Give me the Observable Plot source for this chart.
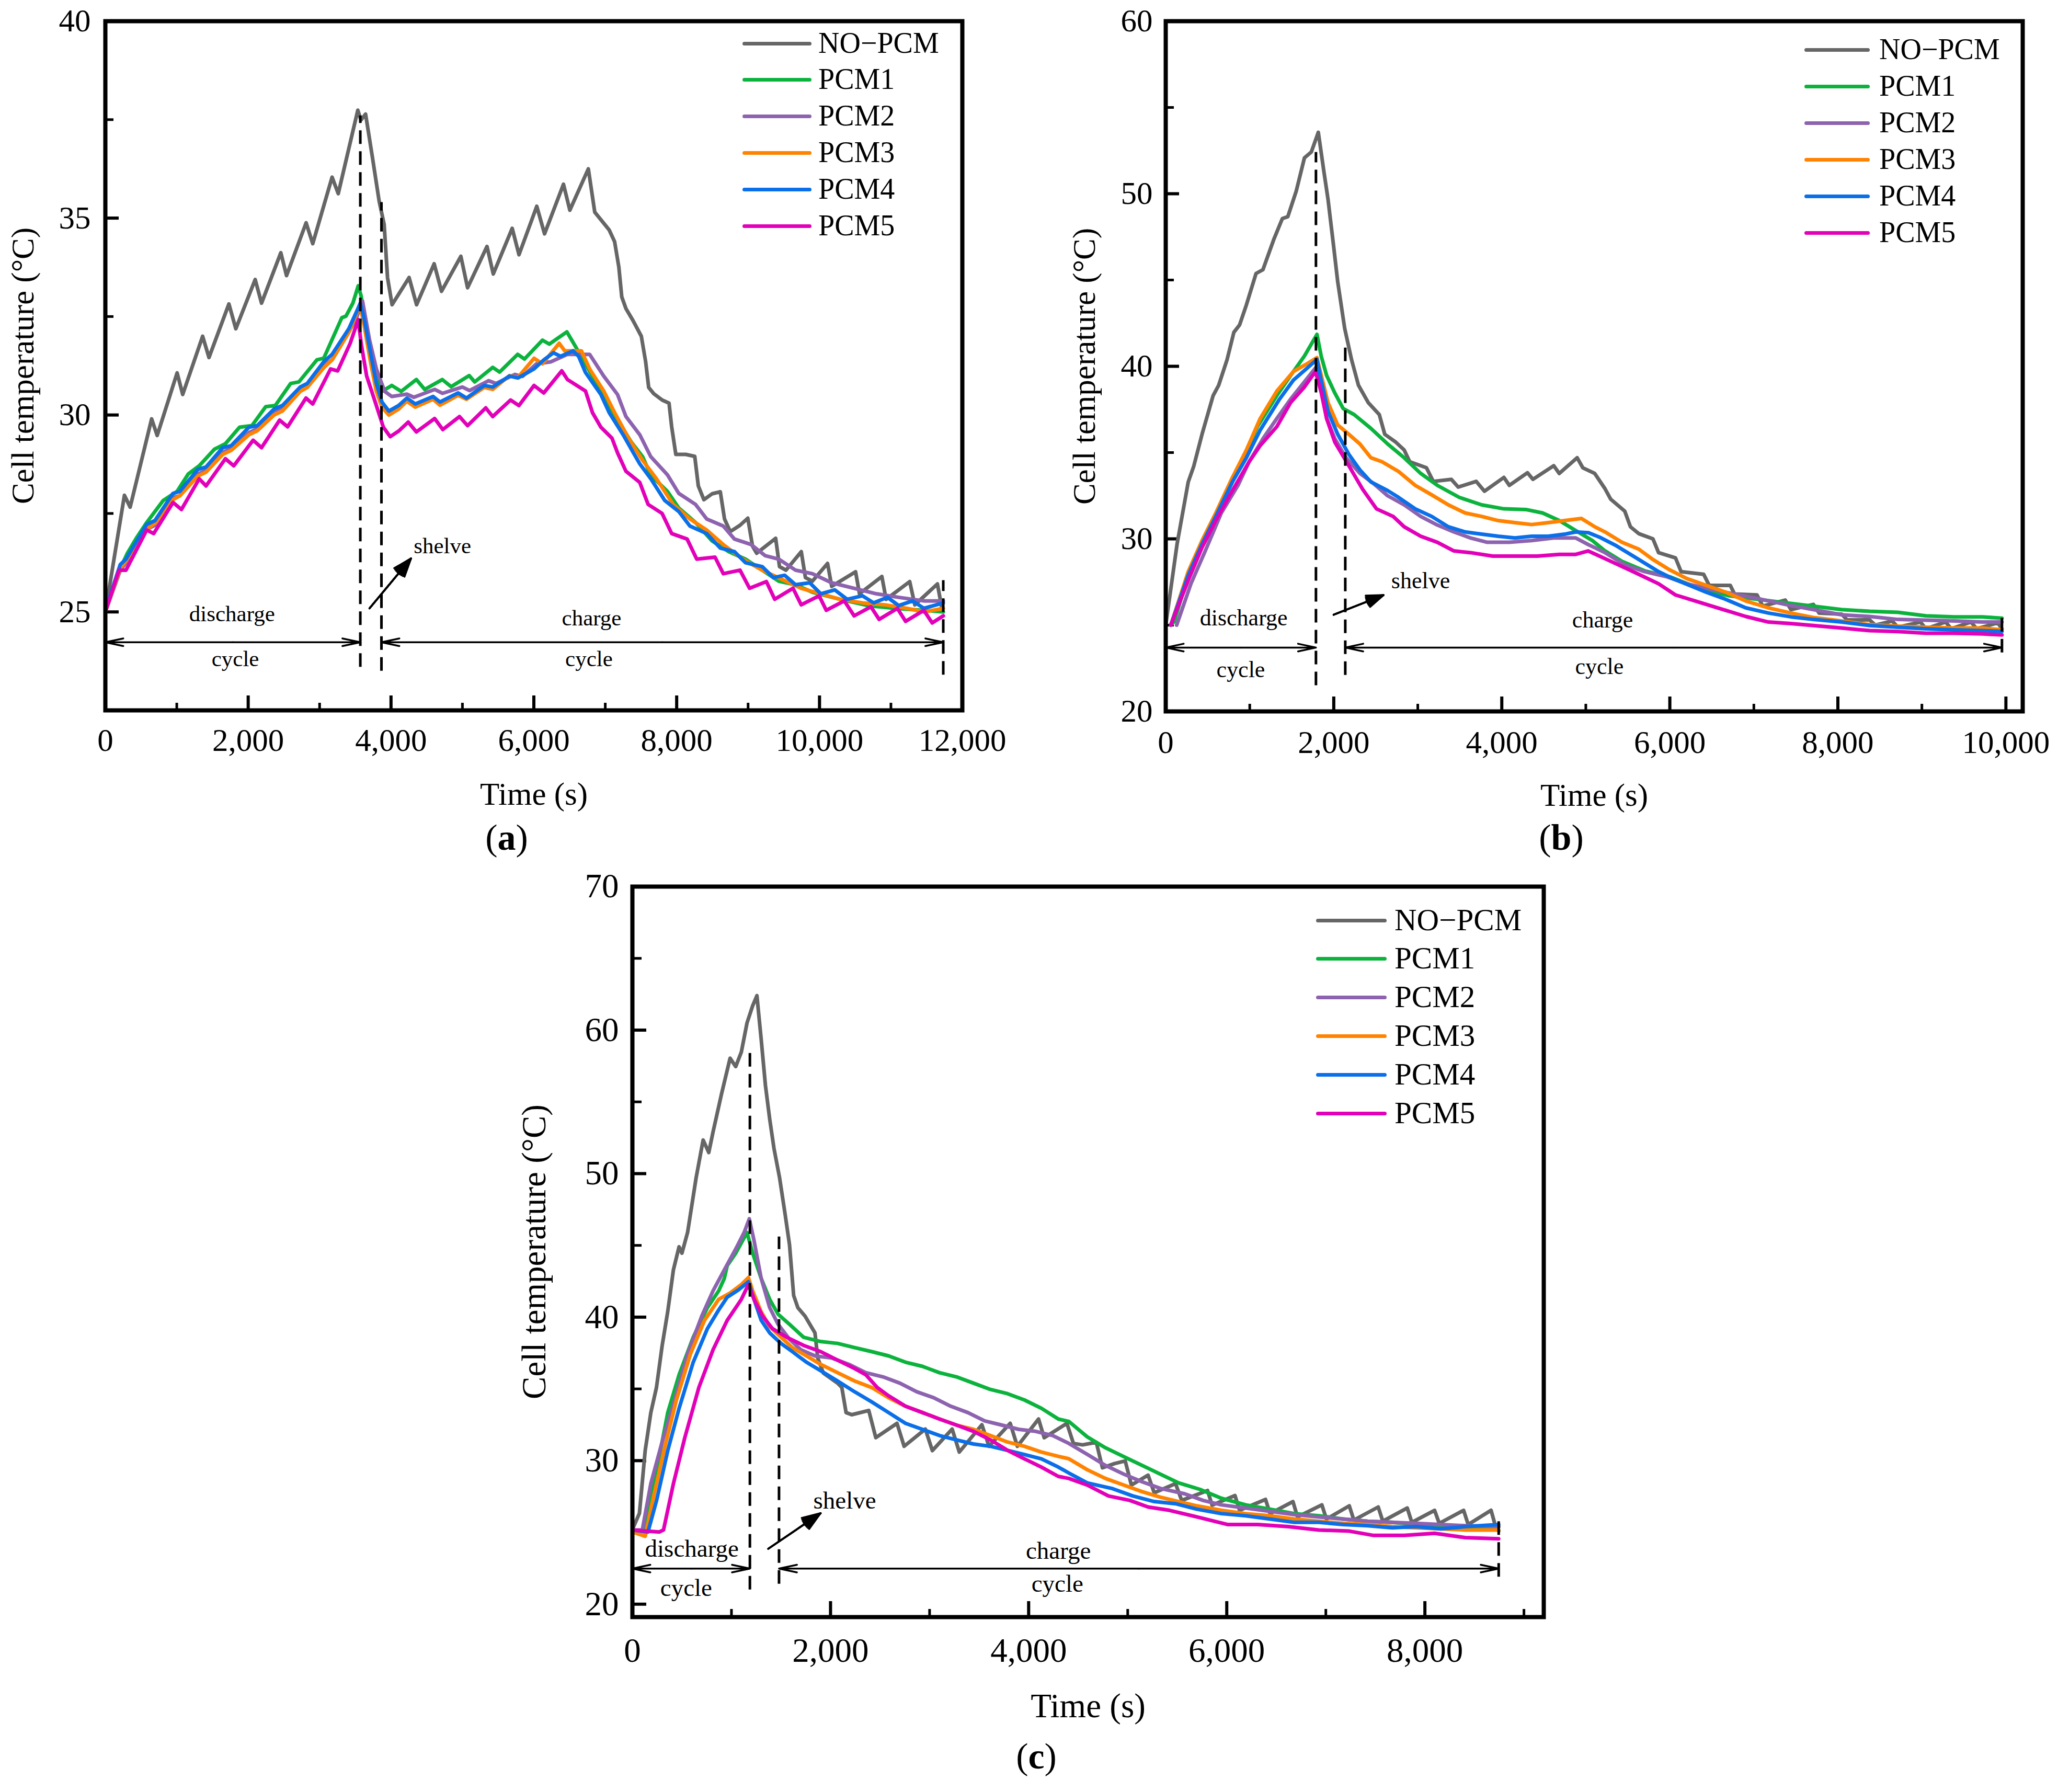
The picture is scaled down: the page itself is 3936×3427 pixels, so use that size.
<!DOCTYPE html>
<html><head><meta charset="utf-8">
<script src="https://cdn.jsdelivr.net/npm/d3@7"></script>
<script src="https://cdn.jsdelivr.net/npm/@observablehq/plot@0.6"></script>
<style>
body{margin:0;background:#fff;}
#root{position:relative;width:3936px;height:3427px;background:#fff;font-family:"Liberation Serif","Times New Roman",serif;color:#000;overflow:hidden;}
.panel{position:absolute;}
.legline{position:absolute;height:7px;border-radius:4px;}
.legtext{position:absolute;line-height:1;white-space:nowrap;}
.plabel{position:absolute;line-height:1;white-space:nowrap;transform:translate(-50%,-50%);}
</style></head><body><div id="root"></div>
<script>
const names = ["NO\u2212PCM","PCM1","PCM2","PCM3","PCM4","PCM5"];
const colors = ["#666666","#0bb33d","#8d63b0","#ff8300","#0a6fe8","#e200b8"];

// ---------- Panel (a) ----------
const aNoPcm = [[0,25.0],[267,27.96],[347,27.66],[648,29.9],[726,29.48],[1005,31.07],[1083,30.52],[1362,32.0],[1451,31.46],[1730,32.82],[1827,32.19],[2098,33.44],[2187,32.84],[2457,34.12],[2537,33.54],[2811,34.88],[2904,34.35],[3175,36.04],[3261,35.62],[3535,37.74],[3579,37.49],[3644,37.64],[3739,36.55],[3834,35.43],[3904,34.84],[3951,33.49],[4015,32.8],[4253,33.49],[4358,32.8],[4604,33.84],[4707,33.14],[4978,34.03],[5072,33.23],[5344,34.28],[5432,33.58],[5697,34.74],[5792,34.07],[6041,35.3],[6150,34.6],[6415,35.86],[6504,35.2],[6763,36.25],[6853,35.15],[6920,35.0],[7055,34.7],[7131,34.4],[7190,33.76],[7231,33.0],[7290,32.7],[7388,32.4],[7505,32.0],[7565,31.36],[7608,30.7],[7680,30.54],[7797,30.38],[7893,30.3],[7930,29.7],[7988,29.0],[8127,29.0],[8253,28.95],[8303,28.2],[8381,27.85],[8497,28.0],[8611,28.05],[8670,27.36],[8750,27.04],[8887,27.2],[8996,27.38],[9062,26.67],[9120,26.49],[9386,26.87],[9440,26.15],[9531,26.06],[9745,26.53],[9803,25.87],[9900,25.78],[10113,26.23],[10171,25.65],[10505,26.02],[10560,25.46],[10873,25.9],[10933,25.32],[11263,25.77],[11335,25.18],[11651,25.71],[11710,25.13]];
const aPcm1 = [[0,25.05],[191,26.03],[308,26.49],[443,26.9],[579,27.27],[810,27.83],[1005,28.06],[1160,28.5],[1314,28.71],[1527,29.13],[1681,29.27],[1879,29.69],[2052,29.73],[2245,30.21],[2380,30.24],[2594,30.8],[2710,30.84],[2962,31.4],[3058,31.44],[3311,32.47],[3369,32.51],[3466,32.84],[3541,33.28],[3582,33.02],[3650,32.2],[3750,31.2],[3872,30.6],[4010,30.75],[4142,30.6],[4355,30.9],[4472,30.65],[4718,30.9],[4842,30.72],[5095,31.0],[5172,30.84],[5425,31.21],[5521,31.09],[5773,31.54],[5869,31.42],[6120,31.9],[6216,31.8],[6463,32.11],[6589,31.72],[6705,31.35],[6939,30.61],[7055,30.24],[7172,29.87],[7366,29.31],[7523,28.94],[7638,28.47],[7871,28.06],[8029,27.64],[8264,27.27],[8497,26.8],[8730,26.53],[8963,26.34],[9197,26.06],[9431,25.78],[9664,25.69],[9900,25.5],[10289,25.32],[10678,25.16],[11070,25.09],[11461,25.04],[11733,25.0]];
const aPcm2 = [[0,25.0],[208,26.05],[289,26.25],[579,27.1],[695,27.2],[948,27.9],[1043,27.95],[1296,28.5],[1410,28.6],[1644,29.05],[1761,29.15],[2011,29.55],[2127,29.65],[2362,30.1],[2479,30.2],[2729,30.65],[2827,30.75],[3058,31.25],[3175,31.4],[3409,32.1],[3524,32.5],[3600,32.9],[3700,31.9],[3795,31.17],[3911,30.6],[4010,30.47],[4222,30.53],[4320,30.45],[4611,30.65],[4720,30.55],[4999,30.71],[5100,30.62],[5366,30.87],[5470,30.8],[5734,31.03],[5840,30.98],[6036,31.3],[6236,31.35],[6471,31.54],[6781,31.54],[6978,30.99],[7172,30.52],[7290,29.96],[7483,29.5],[7638,28.94],[7871,28.48],[8029,28.01],[8264,27.73],[8420,27.36],[8653,27.18],[8809,26.85],[9043,26.71],[9238,26.43],[9431,26.34],[9664,26.06],[9900,25.97],[10171,25.74],[10485,25.6],[10796,25.46],[11109,25.37],[11461,25.28],[11733,25.28]];
const aPcm3 = [[0,25.0],[208,26.1],[289,26.3],[579,27.1],[695,27.25],[948,27.85],[1043,27.95],[1296,28.45],[1410,28.55],[1644,29.0],[1761,29.1],[2011,29.5],[2127,29.6],[2362,30.0],[2479,30.1],[2729,30.6],[2827,30.7],[3058,31.2],[3175,31.4],[3409,32.1],[3524,32.6],[3565,32.8],[3621,32.3],[3717,31.3],[3795,30.6],[3873,30.2],[3970,30.0],[4106,30.15],[4222,30.35],[4340,30.2],[4589,30.4],[4685,30.25],[4940,30.5],[5057,30.4],[5307,30.7],[5424,30.65],[5658,31.0],[5776,30.95],[6003,31.44],[6120,31.3],[6355,31.82],[6432,31.63],[6666,31.63],[6781,31.17],[6978,30.61],[7131,30.06],[7327,29.41],[7523,28.85],[7717,28.38],[7951,27.73],[8186,27.36],[8420,27.08],[8653,26.71],[8925,26.34],[9197,26.06],[9469,25.83],[9744,25.6],[10017,25.46],[10289,25.32],[10601,25.23],[10913,25.18],[11226,25.09],[11461,25.0],[11733,25.09]];
const aPcm4 = [[0,25.05],[208,26.2],[289,26.34],[579,27.22],[695,27.32],[948,28.01],[1043,28.06],[1296,28.62],[1410,28.68],[1644,29.17],[1761,29.22],[2011,29.69],[2127,29.73],[2362,30.15],[2479,30.24],[2729,30.71],[2827,30.8],[3058,31.35],[3175,31.54],[3409,32.19],[3524,32.65],[3570,32.84],[3621,32.47],[3717,31.54],[3795,30.8],[3873,30.33],[3970,30.1],[4106,30.24],[4222,30.43],[4340,30.28],[4589,30.47],[4685,30.33],[4940,30.56],[5057,30.43],[5307,30.75],[5424,30.71],[5658,30.99],[5776,30.94],[6003,31.17],[6139,31.4],[6275,31.58],[6373,31.49],[6549,31.63],[6627,31.49],[6723,31.08],[6939,30.52],[7055,30.06],[7250,29.5],[7366,29.13],[7483,28.76],[7638,28.38],[7833,27.83],[8029,27.55],[8186,27.18],[8420,26.99],[8611,26.62],[8809,26.53],[8963,26.25],[9197,26.15],[9355,25.87],[9512,25.93],[9664,25.69],[9864,25.74],[10017,25.46],[10213,25.56],[10387,25.32],[10601,25.41],[10757,25.23],[10952,25.37],[11109,25.16],[11304,25.28],[11461,25.09],[11733,25.23]];
const aPcm5 = [[0,25.0],[191,26.06],[289,26.06],[579,27.08],[677,26.99],[948,27.78],[1065,27.6],[1314,28.38],[1410,28.2],[1681,28.89],[1798,28.71],[2069,29.36],[2187,29.17],[2440,29.87],[2553,29.7],[2809,30.43],[2904,30.28],[3154,31.17],[3253,31.12],[3428,31.82],[3541,32.42],[3582,31.82],[3659,30.99],[3795,30.24],[3893,29.69],[3988,29.45],[4106,29.59],[4241,29.82],[4355,29.57],[4611,29.91],[4725,29.63],[4958,29.96],[5072,29.73],[5327,30.18],[5424,29.96],[5674,30.38],[5791,30.24],[6003,30.75],[6139,30.56],[6391,31.12],[6471,30.9],[6723,30.61],[6821,30.06],[6939,29.69],[7094,29.41],[7172,29.04],[7290,28.57],[7483,28.29],[7600,27.73],[7796,27.5],[7930,26.99],[8146,26.85],[8281,26.34],[8537,26.39],[8653,25.97],[8887,26.06],[9021,25.6],[9256,25.77],[9373,25.32],[9629,25.6],[9744,25.18],[9995,25.41],[10095,25.04],[10347,25.28],[10485,24.9],[10720,25.13],[10835,24.81],[11090,25.09],[11206,24.76],[11461,25.04],[11578,24.72],[11733,24.9]];
const aXMajor = [0,2000,4000,6000,8000,10000,12000];
const aXMinor = [1000,3000,5000,7000,9000,11000];
const aYMajor = [25,30,35,40];
const aYMinor = [27.5,32.5,37.5];
const aDashes = [{x:3570,y1:23.6,y2:37.6},{x:3866,y1:23.5,y2:35.4},{x:11733,y1:23.4,y2:25.8}];
const aSpans = [{a:0,b:3570,y:24.23},{a:3866,b:11733,y:24.23}];
const aNotes = [{text:"discharge",x:1774,y:24.95},{text:"cycle",x:1820,y:23.8},{text:"charge",x:6809,y:24.84},{text:"cycle",x:6772,y:23.8},{text:"shelve",x:4720,y:26.67}];
const aShelve = [{x1:3699,y1:25.09,x2:4281,y2:26.36}];

// ---------- Panel (b) ----------
const bNoPcm = [[0,25.0],[135,29.7],[268,33.3],[333,34.2],[432,36.06],[564,38.3],[630,38.9],[730,40.38],[811,41.97],[879,42.4],[960,43.56],[1075,45.38],[1157,45.6],[1290,47.4],[1388,48.56],[1453,48.67],[1553,50.15],[1651,52.08],[1733,52.42],[1816,53.56],[1882,51.3],[1931,49.7],[1998,46.97],[2047,44.9],[2130,42.2],[2212,40.38],[2294,38.9],[2410,37.9],[2542,37.2],[2607,36.06],[2739,35.6],[2838,35.15],[2904,34.47],[3103,34.12],[3184,33.33],[3399,33.45],[3481,33.0],[3695,33.33],[3794,32.76],[4025,33.56],[4090,33.1],[4305,33.83],[4371,33.45],[4618,34.24],[4684,33.79],[4897,34.7],[4964,34.12],[5106,33.79],[5229,32.9],[5296,32.3],[5464,31.6],[5531,30.7],[5631,30.3],[5799,30.0],[5866,29.2],[6067,28.9],[6134,28.1],[6402,27.95],[6469,27.3],[6720,27.3],[6770,26.8],[7038,26.75],[7106,26.1],[7374,26.45],[7441,25.9],[7709,26.2],[7776,25.7],[8044,25.64],[8111,25.3],[8379,25.3],[8446,25.0],[8647,25.24],[8714,24.88],[8982,25.18],[9049,24.79],[9283,25.18],[9350,24.79],[9585,25.18],[9652,24.79],[9903,25.13],[9953,24.79]];
const bPcm1 = [[60,25.0],[100,25.2],[268,27.9],[432,29.7],[596,31.3],[794,33.3],[926,34.7],[1091,36.5],[1322,38.3],[1487,39.47],[1651,40.6],[1800,41.85],[1850,40.6],[1915,39.47],[2013,38.45],[2112,37.55],[2243,37.2],[2442,36.4],[2641,35.5],[2838,34.7],[3035,33.79],[3233,33.1],[3495,32.4],[3761,31.97],[4025,31.74],[4287,31.7],[4486,31.5],[4684,31.06],[4881,30.48],[5078,29.9],[5229,29.3],[5430,28.7],[5698,28.15],[6000,27.8],[6369,27.1],[6704,26.7],[7038,26.5],[7374,26.3],[7709,26.1],[8044,25.9],[8379,25.8],[8714,25.74],[9049,25.54],[9384,25.48],[9719,25.48],[9953,25.4]];
const bPcm2 = [[130,25.0],[300,27.4],[465,29.24],[662,31.5],[860,33.1],[993,34.47],[1157,35.8],[1322,36.97],[1487,38.1],[1651,39.1],[1782,39.9],[1850,38.65],[1915,37.0],[2013,35.8],[2146,34.7],[2311,33.8],[2475,33.2],[2641,32.5],[2838,31.97],[3035,31.3],[3233,30.8],[3430,30.4],[3629,30.05],[3827,29.8],[4090,29.8],[4355,29.9],[4618,30.05],[4881,30.05],[5028,29.67],[5229,29.2],[5464,28.5],[5698,28.1],[5967,27.8],[6201,27.4],[6469,27.1],[6770,26.8],[7038,26.55],[7374,26.2],[7709,25.9],[8044,25.6],[8379,25.5],[8714,25.33],[9049,25.29],[9384,25.24],[9719,25.18],[9953,25.18]];
const bPcm3 = [[60,25.0],[268,28.1],[432,29.9],[596,31.5],[794,33.56],[960,35.15],[1124,36.97],[1322,38.56],[1520,39.7],[1684,40.15],[1800,40.5],[1863,39.24],[1931,37.9],[2047,36.6],[2179,36.06],[2311,35.5],[2442,34.7],[2574,34.47],[2772,33.9],[2970,33.1],[3166,32.55],[3364,31.97],[3564,31.5],[3761,31.3],[3957,31.06],[4156,30.94],[4355,30.83],[4552,30.94],[4748,31.06],[4947,31.18],[5106,30.7],[5229,30.4],[5430,29.8],[5631,29.4],[5799,28.8],[6000,28.2],[6201,27.7],[6436,27.3],[6670,26.9],[6905,26.4],[7173,26.0],[7441,25.7],[7709,25.44],[8044,25.24],[8379,25.03],[8714,24.94],[9049,24.88],[9384,24.83],[9719,24.83],[9953,24.73]];
const bPcm4 = [[60,25.0],[268,27.9],[432,29.7],[596,31.3],[794,33.3],[960,34.7],[1124,36.3],[1355,38.1],[1520,39.2],[1684,39.9],[1800,40.4],[1850,39.2],[1931,37.4],[2047,36.06],[2179,34.9],[2311,34.0],[2442,33.3],[2641,32.8],[2772,32.4],[2970,31.74],[3166,31.3],[3364,30.7],[3564,30.4],[3761,30.27],[3957,30.15],[4156,30.05],[4355,30.15],[4552,30.15],[4748,30.27],[4881,30.4],[5028,30.36],[5162,30.1],[5363,29.6],[5598,28.9],[5866,28.1],[6034,27.7],[6235,27.3],[6436,26.9],[6637,26.55],[6905,26.0],[7173,25.7],[7441,25.48],[7709,25.33],[8044,25.18],[8379,24.98],[8714,24.88],[9049,24.79],[9384,24.73],[9719,24.68],[9953,24.64]];
const bPcm5 = [[60,25.0],[268,27.6],[432,29.5],[596,31.06],[794,32.8],[993,34.47],[1124,35.4],[1322,36.5],[1487,37.9],[1651,38.8],[1782,39.7],[1850,38.5],[1915,36.97],[2013,35.6],[2179,34.24],[2343,32.88],[2508,31.74],[2707,31.3],[2838,30.7],[3035,30.15],[3233,29.8],[3430,29.3],[3629,29.2],[3893,29.0],[4156,29.0],[4420,29.0],[4684,29.1],[4881,29.1],[5028,29.3],[5296,28.7],[5564,28.1],[5866,27.4],[6067,26.75],[6369,26.3],[6637,25.9],[6905,25.5],[7173,25.18],[7441,25.09],[7709,24.98],[8044,24.83],[8379,24.68],[8714,24.63],[9049,24.53],[9384,24.53],[9719,24.49],[9953,24.43]];
const bXMajor = [0,2000,4000,6000,8000,10000];
const bXMinor = [1000,3000,5000,7000,9000];
const bYMajor = [20,30,40,50,60];
const bYMinor = [25,35,45,55];
const bDashes = [{x:1788,y1:21.5,y2:52.4},{x:2137,y1:22.1,y2:41.1},{x:9953,y1:23.4,y2:25.45}];
const bSpans = [{a:0,b:1788,y:23.7},{a:2137,b:9953,y:23.7}];
const bNotes = [{text:"discharge",x:928,y:25.4},{text:"cycle",x:893,y:22.4},{text:"charge",x:5200,y:25.3},{text:"cycle",x:5162,y:22.6},{text:"shelve",x:3034,y:27.55}];
const bShelve = [{x1:1998,y1:25.6,x2:2592,y2:26.74}];

// ---------- Panel (c) ----------
const cNoPcm = [[0,25.2],[71,26.34],[129,30.7],[186,33.35],[243,35.1],[300,38.0],[357,40.4],[414,43.3],[471,44.9],[500,44.46],[557,45.9],[643,49.7],[714,52.34],[771,51.47],[814,52.9],[900,55.56],[986,58.04],[1043,57.46],[1100,58.48],[1157,60.5],[1214,61.7],[1257,62.4],[1300,59.36],[1343,56.14],[1386,53.8],[1429,51.76],[1486,49.7],[1543,47.1],[1586,45.04],[1628,41.5],[1671,40.65],[1743,40.07],[1843,38.9],[1871,37.15],[1928,36.1],[2071,35.4],[2114,35.1],[2157,33.35],[2214,33.2],[2386,33.5],[2457,31.6],[2671,32.6],[2743,31.0],[2957,32.2],[3028,30.7],[3228,32.2],[3300,30.6],[3528,32.5],[3600,31.0],[3814,32.6],[3886,31.0],[4100,32.9],[4157,31.6],[4386,32.6],[4452,31.2],[4545,31.1],[4683,31.28],[4745,29.5],[4868,29.8],[4975,29.98],[5037,28.3],[5206,28.99],[5268,27.76],[5483,28.4],[5545,27.23],[5806,27.92],[5852,26.9],[6083,27.57],[6129,26.54],[6391,27.3],[6437,26.31],[6668,27.15],[6714,26.08],[6960,26.92],[7006,25.93],[7237,26.85],[7283,25.86],[7529,26.77],[7575,25.78],[7822,26.7],[7868,25.7],[8098,26.54],[8145,25.63],[8391,26.54],[8437,25.55],[8668,26.54],[8714,25.4],[8745,25.1]];
const cPcm1 = [[0,25.17],[129,25.03],[243,29.26],[357,33.35],[471,35.98],[614,38.6],[757,40.66],[871,41.83],[928,42.7],[957,43.58],[1043,44.46],[1157,45.9],[1214,44.46],[1300,42.7],[1386,41.24],[1471,40.2],[1586,39.5],[1728,38.6],[1900,38.3],[2071,38.17],[2243,37.88],[2414,37.6],[2586,37.3],[2757,36.86],[2928,36.57],[3100,36.13],[3271,35.84],[3443,35.4],[3614,34.96],[3786,34.67],[3957,34.23],[4128,33.65],[4300,32.9],[4406,32.73],[4591,31.66],[4775,30.9],[4960,30.28],[5145,29.67],[5329,29.06],[5514,28.45],[5729,28.0],[5945,27.38],[6191,26.92],[6437,26.62],[6683,26.31],[6929,26.16],[7175,25.93],[7422,25.78],[7668,25.7],[7914,25.55],[8160,25.47],[8406,25.4],[8745,25.4]];
const cPcm2 = [[0,25.17],[100,25.17],[186,28.4],[300,31.3],[414,33.94],[557,37.44],[700,40.07],[814,41.83],[928,43.3],[1043,44.75],[1128,45.9],[1180,46.85],[1228,45.33],[1300,42.7],[1386,40.66],[1471,39.5],[1586,38.46],[1700,37.73],[1843,37.3],[2014,37.15],[2186,36.71],[2357,36.13],[2529,35.84],[2700,35.4],[2871,34.8],[3043,34.38],[3214,33.79],[3386,33.35],[3557,32.77],[3728,32.48],[3900,32.18],[4071,32.04],[4243,31.75],[4406,31.2],[4591,30.44],[4775,29.67],[4960,29.06],[5145,28.53],[5329,28.07],[5575,27.69],[5760,27.23],[5945,26.92],[6191,26.7],[6437,26.47],[6683,26.24],[6929,26.08],[7175,25.93],[7422,25.78],[7668,25.7],[7914,25.63],[8160,25.55],[8406,25.47],[8745,25.4]];
const cPcm3 = [[0,25.03],[129,24.73],[214,27.5],[329,31.0],[443,34.2],[586,37.44],[728,39.78],[871,41.24],[986,41.68],[1100,42.27],[1171,42.76],[1214,41.83],[1300,40.37],[1386,39.34],[1500,38.6],[1614,37.88],[1757,37.3],[1900,36.71],[2071,36.13],[2243,35.55],[2414,35.1],[2586,34.38],[2757,33.79],[2928,33.35],[3100,32.9],[3271,32.48],[3443,32.18],[3614,31.75],[3786,31.3],[3957,31.0],[4128,30.6],[4300,30.3],[4406,30.13],[4591,29.37],[4775,28.76],[4960,28.3],[5145,27.84],[5329,27.46],[5514,27.15],[5698,26.85],[5945,26.54],[6191,26.31],[6437,26.16],[6683,25.93],[6929,25.78],[7175,25.63],[7422,25.55],[7668,25.4],[7914,25.32],[8160,25.25],[8406,25.17],[8745,25.17]];
const cPcm4 = [[0,25.17],[157,25.03],[243,27.2],[357,30.7],[471,33.64],[614,36.86],[757,39.2],[871,40.5],[957,41.39],[1071,41.9],[1171,42.47],[1228,41.24],[1300,39.78],[1386,38.9],[1500,38.17],[1614,37.6],[1757,36.86],[1900,36.27],[2071,35.55],[2243,34.8],[2414,34.1],[2586,33.35],[2757,32.6],[2928,32.18],[3100,31.75],[3271,31.45],[3443,31.16],[3614,31.0],[3786,30.72],[3957,30.43],[4128,30.13],[4300,29.55],[4406,29.14],[4591,28.45],[4837,28.07],[5052,27.54],[5268,27.15],[5483,27.0],[5698,26.62],[5945,26.31],[6191,26.16],[6437,25.93],[6683,25.7],[6929,25.7],[7175,25.55],[7422,25.47],[7668,25.32],[7914,25.4],[8160,25.25],[8406,25.4],[8745,25.55]];
const cPcm5 = [[0,25.17],[271,25.03],[314,25.17],[414,28.4],[529,31.6],[671,35.1],[814,37.73],[957,39.78],[1100,41.24],[1171,42.27],[1228,41.24],[1314,40.07],[1414,39.2],[1557,38.6],[1728,38.03],[1900,37.6],[2071,37.0],[2243,36.42],[2357,35.98],[2471,35.1],[2586,34.52],[2757,33.79],[2928,33.35],[3100,32.9],[3271,32.48],[3443,32.04],[3614,31.45],[3786,30.72],[3957,30.13],[4128,29.55],[4300,28.9],[4406,28.76],[4591,28.3],[4806,27.54],[5022,27.23],[5206,26.77],[5421,26.54],[5698,26.08],[6006,25.55],[6314,25.55],[6622,25.4],[6929,25.17],[7237,25.09],[7483,24.79],[7791,24.79],[8098,24.94],[8406,24.64],[8745,24.56]];
const cXMajor = [0,2000,4000,6000,8000];
const cXMinor = [1000,3000,5000,7000,9000];
const cYMajor = [20,30,40,50,60,70];
const cYMinor = [25,35,45,55,65];
const cDashes = [{x:1186,y1:21.0,y2:58.8},{x:1480,y1:21.4,y2:45.6},{x:8745,y1:21.9,y2:26.2}];
const cSpans = [{a:0,b:1186,y:22.48},{a:1480,b:8745,y:22.48}];
const cNotes = [{text:"discharge",x:600,y:23.86},{text:"cycle",x:543,y:21.14},{text:"charge",x:4300,y:23.72},{text:"cycle",x:4290,y:21.4},{text:"shelve",x:2143,y:27.2}];
const cShelve = [{x1:1371,y1:23.86,x2:1900,y2:26.34}];

const root = document.getElementById("root");
const FONT = '"Liberation Serif","Times New Roman",serif';

function makePanel(c) {
  const innerW = c.width - c.ml - c.mr, innerH = c.height - c.mt - c.mb;
  const marks = [];
  marks.push(Plot.tickX(c.xMinor, {x: d => d, insetTop: innerH - c.xMinLen, stroke: "black", strokeWidth: 5}));
  marks.push(Plot.tickX(c.xMajor, {x: d => d, insetTop: innerH - c.xMajLen, stroke: "black", strokeWidth: 6}));
  marks.push(Plot.tickY(c.yMinor, {y: d => d, insetRight: innerW - c.yMinLen, stroke: "black", strokeWidth: 5}));
  marks.push(Plot.tickY(c.yMajor, {y: d => d, insetRight: innerW - c.yMajLen, stroke: "black", strokeWidth: 6}));
  c.series.forEach((arr, i) => {
    marks.push(Plot.line(arr, {x: d => d[0], y: d => d[1], stroke: colors[i], strokeWidth: 7, strokeLinejoin: "round", strokeLinecap: "round"}));
  });
  marks.push(Plot.ruleX(c.dashes, {x: "x", y1: "y1", y2: "y2", stroke: "black", strokeWidth: 5, strokeDasharray: "26,14"}));
  const spanArrows = c.spans.flatMap(s => [
    {x1: (s.a + s.b) / 2, x2: s.a, y: s.y},
    {x1: (s.a + s.b) / 2, x2: s.b, y: s.y}
  ]);
  marks.push(Plot.arrow(spanArrows, {x1: "x1", x2: "x2", y1: "y", y2: "y", stroke: "black", strokeWidth: 3.5, headLength: 15, headAngle: 24}));
  [40, 30, 20, 10, 3].forEach(ang => {
    marks.push(Plot.arrow(c.shelve, {x1: "x1", y1: "y1", x2: "x2", y2: "y2", stroke: "black", strokeWidth: 3.5, headLength: 16, headAngle: ang}));
  });
  marks.push(Plot.text(c.notes, {x: "x", y: "y", text: "text", fontSize: c.noteFs, fill: "black", fontFamily: FONT}));
  marks.push(Plot.frame({stroke: "black", strokeWidth: 8}));
  marks.push(Plot.axisX(c.xMajor, {anchor: "bottom", tickSize: 0, tickPadding: c.padX, fontSize: c.fs, tickFormat: d3.format(","), label: null, fontFamily: FONT}));
  marks.push(Plot.axisY(c.yMajor, {anchor: "left", tickSize: 0, tickPadding: c.padY, fontSize: c.fs, tickFormat: d => String(d), label: null, fontFamily: FONT}));
  marks.push(Plot.text(["Time (s)"], {frameAnchor: "bottom", dy: c.xTitleDy, textAnchor: "middle", lineAnchor: "middle", fontSize: c.titleFs, fill: "black", fontFamily: FONT}));
  marks.push(Plot.text(["Cell temperature (\u00B0C)"], {frameAnchor: "left", dx: c.yTitleDx, rotate: -90, textAnchor: "middle", lineAnchor: "middle", fontSize: c.titleFs, fill: "black", fontFamily: FONT}));
  const svg = Plot.plot({
    width: c.width, height: c.height,
    marginLeft: c.ml, marginRight: c.mr, marginTop: c.mt, marginBottom: c.mb,
    x: {domain: c.xDomain},
    y: {domain: c.yDomain},
    style: {background: "transparent", color: "black", fontFamily: FONT, maxWidth: "none", overflow: "visible"},
    marks
  });
  const div = document.createElement("div");
  div.className = "panel";
  div.style.left = c.left + "px";
  div.style.top = c.top + "px";
  div.style.width = c.width + "px";
  div.style.height = c.height + "px";
  div.appendChild(svg);
  root.appendChild(div);

  // legend
  c.legY.forEach((y, i) => {
    const ln = document.createElement("div");
    ln.className = "legline";
    ln.style.left = c.legX1 + "px";
    ln.style.width = (c.legX2 - c.legX1) + "px";
    ln.style.top = (y - 3.5) + "px";
    ln.style.background = colors[i];
    root.appendChild(ln);
    const tx = document.createElement("div");
    tx.className = "legtext";
    tx.style.left = c.legTextX + "px";
    tx.style.top = (y - 0.51 * c.legFs) + "px";
    tx.style.fontSize = c.legFs + "px";
    tx.textContent = names[i];
    root.appendChild(tx);
  });
  const pl = document.createElement("div");
  pl.className = "plabel";
  pl.style.left = c.plX + "px";
  pl.style.top = (c.plY - 6) + "px";
  pl.style.fontSize = "70px";
  pl.innerHTML = "(<b>" + c.plText + "</b>)";
  root.appendChild(pl);
}

makePanel({
  left: 0, top: 0, width: 1968, height: 1700, ml: 201, mr: 128, mt: 40, mb: 342,
  xDomain: [0, 12000], yDomain: [22.5, 40],
  series: [aNoPcm, aPcm1, aPcm2, aPcm3, aPcm4, aPcm5],
  xMajor: aXMajor, xMinor: aXMinor, yMajor: aYMajor, yMinor: aYMinor,
  xMajLen: 28, xMinLen: 14, yMajLen: 26, yMinLen: 16,
  dashes: aDashes, spans: aSpans, notes: aNotes, shelve: aShelve, noteFs: 43,
  fs: 61, padX: 34, padY: 28, titleFs: 61, xTitleDy: 161, yTitleDx: -157,
  legX1: 1420, legX2: 1552, legTextX: 1565, legFs: 56, legY: [83, 152, 222, 292, 362, 432],
  plX: 969, plY: 1608, plText: "a"
});
makePanel({
  left: 1968, top: 0, width: 1968, height: 1700, ml: 261, mr: 68, mt: 40, mb: 340,
  xDomain: [0, 10200], yDomain: [20, 60],
  series: [bNoPcm, bPcm1, bPcm2, bPcm3, bPcm4, bPcm5],
  xMajor: bXMajor, xMinor: bXMinor, yMajor: bYMajor, yMinor: bYMinor,
  xMajLen: 28, xMinLen: 14, yMajLen: 26, yMinLen: 16,
  dashes: bDashes, spans: bSpans, notes: bNotes, shelve: bShelve, noteFs: 44,
  fs: 61, padX: 36, padY: 25, titleFs: 61, xTitleDy: 161, yTitleDx: -155,
  legX1: 3451, legX2: 3576, legTextX: 3594, legFs: 56, legY: [95, 165, 235, 305, 375, 445],
  plX: 2986, plY: 1608, plText: "b"
});
makePanel({
  left: 900, top: 1640, width: 2150, height: 1787, ml: 309, mr: 98, mt: 55, mb: 335,
  xDomain: [0, 9200], yDomain: [19.1, 70],
  series: [cNoPcm, cPcm1, cPcm2, cPcm3, cPcm4, cPcm5],
  xMajor: cXMajor, xMinor: cXMinor, yMajor: cYMajor, yMinor: cYMinor,
  xMajLen: 30, xMinLen: 15, yMajLen: 27, yMinLen: 18,
  dashes: cDashes, spans: cSpans, notes: cNotes, shelve: cShelve, noteFs: 47,
  fs: 65, padX: 39, padY: 26, titleFs: 65, xTitleDy: 171, yTitleDx: -187,
  legX1: 2517, legX2: 2652, legTextX: 2667, legFs: 59, legY: [1760, 1833, 1907, 1981, 2055, 2129],
  plX: 1982, plY: 3365, plText: "c"
});
</script>
</body></html>
